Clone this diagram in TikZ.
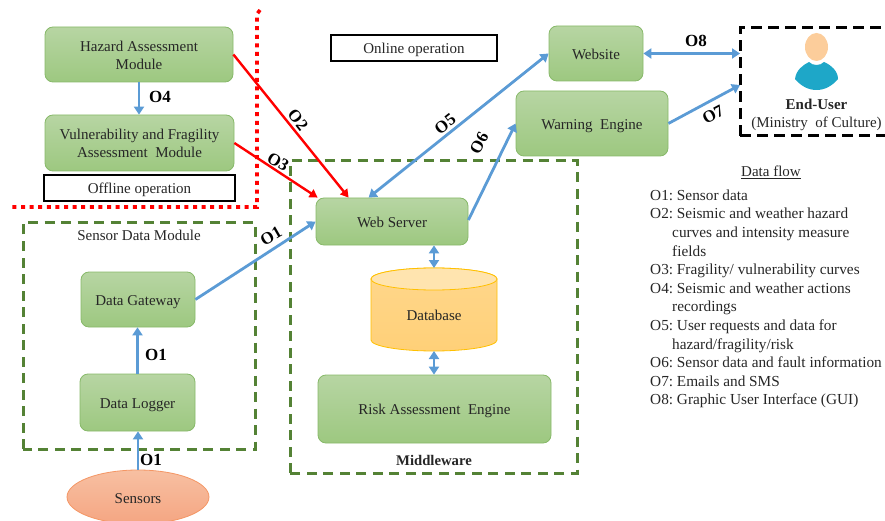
\documentclass[tikz,border=0pt]{standalone}
\usepackage{fontspec}
\setmainfont{Liberation Serif}
\frenchspacing
\usetikzlibrary{arrows.meta,calc,shapes.geometric}
\definecolor{gbord}{RGB}{135,185,105}
\definecolor{gtop}{RGB}{183,213,163}
\definecolor{gbot}{RGB}{157,200,128}
\definecolor{dgreen}{RGB}{84,130,53}
\definecolor{flow}{RGB}{91,155,213}
\definecolor{dbtopc}{RGB}{255,228,175}
\definecolor{dbside}{RGB}{255,215,140}
\definecolor{dbside2}{RGB}{255,208,120}
\definecolor{dbline}{RGB}{255,192,0}
\definecolor{senstop}{RGB}{247,192,162}
\definecolor{sensbot}{RGB}{245,165,130}
\definecolor{sensline}{RGB}{244,150,100}
\definecolor{teal}{RGB}{30,167,200}
\definecolor{skin}{RGB}{252,205,155}
\newcommand{\lowa}{\rule{0pt}{12.2pt}}
\newcommand{\lowb}{\rule{0pt}{14.5pt}}
\tikzset{
 box/.style={draw=gbord,line width=.8pt,rounded corners=8pt,top color=gtop,bottom color=gbot,align=center,inner sep=0pt,font=\fontsize{15}{18.2}\selectfont,text=black!85},
 plainbox/.style={draw=black,line width=1.2pt,fill=white,inner sep=0pt,font=\fontsize{15}{17}\selectfont,text=black!85},
 greendash/.style={draw=dgreen,line width=3pt,dash pattern=on 10pt off 6.5pt},
 reddot/.style={draw=red,line width=3.6pt,dash pattern=on 4pt off 4.6pt},
 blueflow/.style={draw=flow,line width=2.8pt,-{Triangle[length=8pt,width=10pt]}},
 bluedouble/.style={draw=flow,line width=2.8pt,{Triangle[length=8pt,width=10pt]}-{Triangle[length=8pt,width=10pt]}},
 redflow/.style={draw=red,line width=2.4pt,-{Triangle[length=8pt,width=9pt]}},
 flowlabel/.style={font=\bfseries\fontsize{17}{19}\selectfont,inner sep=0pt,text=black},
 plain/.style={font=\fontsize{15}{17}\selectfont,inner sep=0pt,text=black!85},
}
\begin{document}
\begin{tikzpicture}[x=1pt,y=-1pt]
\useasboundingbox (0,0) rectangle (885,521);
\clip (0,0) rectangle (885,521);
% frames
\draw[greendash] (23,449) -- (23,223) -- (255,223) -- (255,449) -- cycle;
\draw[greendash] (290,473) -- (290,161) -- (577,161) -- (577,473) -- cycle;
\draw[reddot] (260,10) -- (257,14) -- (257,207) -- (11,207);
\draw[draw=black,line width=3pt,dash pattern=on 11pt off 6pt] (740,136) -- (740,28) -- (890,28);
\draw[draw=black,line width=3pt,dash pattern=on 11pt off 6pt] (740,136) -- (890,136);
% boxes
\node[box,minimum width=188pt,minimum height=55pt] (haz) at (139,54.5) {\lowa Hazard Assessment\\Module};
\node[box,minimum width=189pt,minimum height=56pt] (vul) at (139.5,143) {Vulnerability and Fragility\\Assessment\ \ Module};
\node[plainbox,minimum width=191pt,minimum height=26pt] (off) at (139.5,188) {\lowb Offline operation};
\node[plainbox,minimum width=166pt,minimum height=26pt] (on) at (414,48) {\lowb Online operation};
\node[box,minimum width=94pt,minimum height=55pt] (web) at (596,53.5) {\lowa Website};
\node[box,minimum width=152pt,minimum height=65pt] (warn) at (592,123.5) {\lowb Warning\ \ Engine};
\node[box,minimum width=152pt,minimum height=47pt] (srv) at (392,221.5) {\lowa Web Server};
\node[box,minimum width=233pt,minimum height=68pt] (risk) at (434.5,409) {\lowb Risk Assessment\ \ Engine};
\node[box,minimum width=114pt,minimum height=55pt] (gate) at (138,299.5) {\lowb Data Gateway};
\node[box,minimum width=115pt,minimum height=57pt] (log) at (137.5,402.5) {\lowb Data Logger};
% database
\path[draw=dbline,line width=.8pt,top color=dbside,bottom color=dbside2]
 (371,279) -- (371,340) arc[start angle=180,end angle=360,x radius=63pt,y radius=11pt] -- (497,279) arc[start angle=0,end angle=180,x radius=63pt,y radius=11pt] -- cycle;
\path[draw=dbline,line width=.8pt,fill=dbtopc] (434,279) ellipse[x radius=63pt,y radius=11pt];
\node[plain] (db) at (434,315.5) {Database};
\coordinate (dbtop) at (434,268);
\coordinate (dbbot) at (434,351);
% sensors
\node[draw=sensline,line width=.8pt,top color=senstop,bottom color=sensbot,ellipse,minimum width=142pt,minimum height=54pt,inner sep=0pt,font=\fontsize{15}{17}\selectfont,text=black!85] (sens) at (138,497) {\lowa Sensors};
% connectors
\draw[blueflow] (haz.south) -- (haz.south |- vul.north);
\draw[redflow] (haz.east) -- ([xshift=33pt]srv.north west);
\draw[redflow] (vul.east) -- ([xshift=2pt]srv.north west);
\draw[bluedouble] ([xshift=53pt]srv.north west) -- (web.west);
\draw[blueflow] ([yshift=1.5pt]srv.east) -- (warn.west);
\draw[blueflow] (gate.east) -- (srv.west);
\draw[bluedouble] (srv.south -| dbtop) -- (dbtop);
\draw[bluedouble] (dbbot) -- (risk.north -| dbbot);
\draw[blueflow] (log.north) -- (gate.south -| log.north);
\draw[blueflow] (sens.north) -- (log.south -| sens.north);
\coordinate (eu1) at (740,53.5);
\coordinate (eu2) at (740,85);
\draw[bluedouble] (web.east) -- (eu1);
\draw[blueflow] (warn.east) -- (eu2);
% flow labels
\node[flowlabel] (l4) at (160,97) {O4};
\node[flowlabel,rotate=-52] (l2) at (298,120) {O2};
\node[flowlabel,rotate=-30] (l3) at (278,162) {O3};
\node[flowlabel,rotate=30] (l1a) at (271,236) {O1};
\node[flowlabel] (l1b) at (156,355) {O1};
\node[flowlabel] (l1c) at (151,460) {O1};
\node[flowlabel,rotate=38] (l5) at (445,124) {O5};
\node[flowlabel,rotate=62] (l6) at (479,143) {O6};
\node[flowlabel,rotate=28] (l7) at (713,115) {O7};
\node[flowlabel] (l8) at (696,41) {O8};
% captions
\node[plain] (sdm) at (139,235) {Sensor Data Module};
\node[plain,font=\bfseries\fontsize{14.7}{17}\selectfont] (mw) at (434,460) {Middleware};
% person
\fill[fill=teal] (795,79) .. controls (796,70) and (803,65) .. (809,62) .. controls (813,66) and (820,66) .. (824,62) .. controls (831,65) and (838,71) .. (838,79) .. controls (832,86) and (825,90) .. (816.5,90) .. controls (808,90) and (801,86) .. (795,79) -- cycle;
\fill[fill=skin] (816.5,47) ellipse[x radius=11.5pt,y radius=14pt];
\node[plain,align=center,font=\fontsize{15}{18}\selectfont] (eu) at (816.5,114.5) {\textbf{End-User}\\(Ministry\ \ of Culture)};
% legend
\node[plain] (dft) at (771,172) {\underline{Data flow}};
\node[plain,anchor=north west,align=left,font=\fontsize{15.3}{18.6}\selectfont] (leg) at (650,189.5) {O1: Sensor data\\
O2: Seismic and weather hazard\\
\hspace*{22pt}curves and intensity measure\\
\hspace*{22pt}fields\\
O3: Fragility/ vulnerability curves\\
O4: Seismic and weather actions\\
\hspace*{22pt}recordings\\
O5: User requests and data for\\
\hspace*{22pt}hazard/fragility/risk\\
O6: Sensor data and fault information\\
O7: Emails and SMS\\
O8: Graphic User Interface (GUI)};
\end{tikzpicture}
\end{document}
